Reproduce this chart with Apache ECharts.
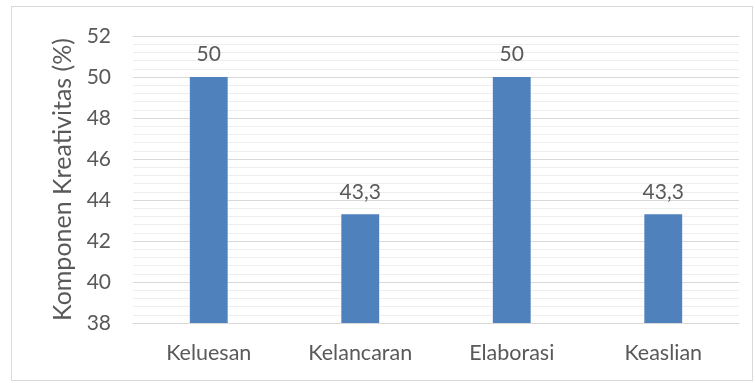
<!DOCTYPE html>
<html>
<head>
<meta charset="utf-8">
<script src="https://cdn.jsdelivr.net/npm/echarts@6/dist/echarts.min.js"></script>
<style>
  html, body { margin: 0; padding: 0; background: #fff; }
  #container { width: 755px; height: 383px; }
  #frame { position: absolute; left: 11px; top: 6px; width: 740px; height: 373px; border: 1px solid #d9d9d9; pointer-events: none; }
</style>
</head>
<body>
<div id="container"></div>
<div id="frame"></div>
<script>
var categories = ['Keluesan', 'Kelancaran', 'Elaborasi', 'Keaslian'];
var values = [50, 43.3, 50, 43.3];
var yTicks = { min: 38, max: 52, interval: 2 };

var dom = document.getElementById('container');
var myChart = echarts.init(dom);
var textColor = '#595959';
var fontFamily = 'Lato, "Open Sans", sans-serif';

var option = {
    animation: false,
    textStyle: { fontFamily: fontFamily },
    grid: { left: 133, right: 16, top: 36, bottom: 60 },
    xAxis: {
        type: 'category',
        data: categories,
        axisTick: { show: false },
        axisLine: { lineStyle: { color: '#d9d9d9', width: 1 } },
        axisLabel: { color: textColor, fontSize: 21.5, margin: 19, fontFamily: fontFamily }
    },
    yAxis: {
        type: 'value',
        min: yTicks.min,
        max: yTicks.max,
        interval: yTicks.interval,
        name: 'Komponen Kreativitas (%)',
        nameLocation: 'middle',
        nameGap: 57,
        nameTextStyle: { color: textColor, fontSize: 25, fontFamily: fontFamily },
        axisLine: { show: false },
        axisTick: { show: false },
        axisLabel: { color: textColor, fontSize: 21, margin: 22, fontFamily: fontFamily },
        splitLine: { lineStyle: { color: '#d9d9d9', width: 1 } },
        minorTick: { show: false, splitNumber: 5 },
        minorSplitLine: { show: true, lineStyle: { color: '#eeeeee', width: 1 } }
    },
    series: [{
        type: 'bar',
        data: values,
        barWidth: '25%',
        itemStyle: { color: '#4f81bd' },
        label: {
            show: true,
            position: 'top',
            distance: 12,
            color: textColor,
            fontSize: 21,
            fontFamily: fontFamily,
            formatter: function (p) {
                return String(p.value).replace('.', ',');
            }
        }
    }]
};

myChart.setOption(option);
</script>
</body>
</html>
